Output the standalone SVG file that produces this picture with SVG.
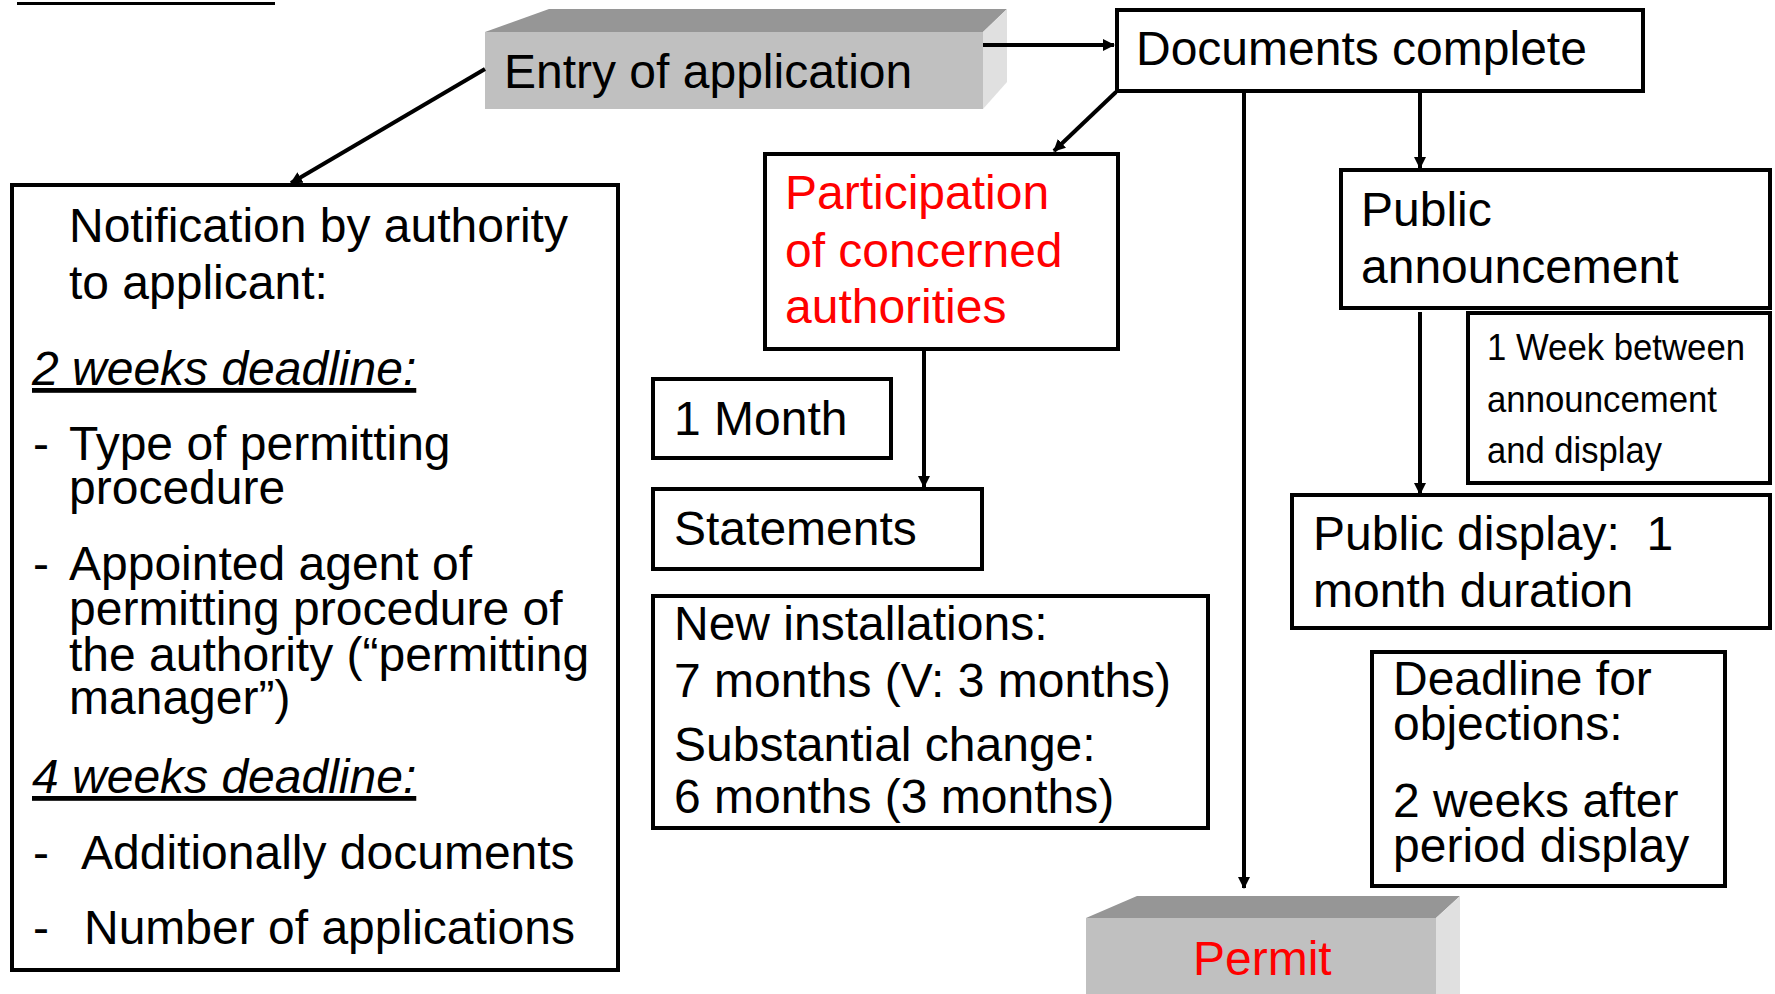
<svg xmlns="http://www.w3.org/2000/svg" width="1775" height="994" viewBox="0 0 1775 994">
<defs>
<marker id="ah" markerUnits="userSpaceOnUse" markerWidth="12" markerHeight="12" refX="11" refY="6" orient="auto">
<path d="M0,0 L12,6 L0,12 z" fill="#000"/>
</marker>
<style>
text{font-family:"Liberation Sans",Arial,sans-serif;font-size:48px;fill:#000}
.box{fill:#fff;stroke:#000;stroke-width:4}
.red{fill:#ff0000}
.small{font-size:37px}
.conn{stroke:#000;stroke-width:4;fill:none}
.arr{marker-end:url(#ah)}
.front{fill:#c0c0c0}
.top{fill:#969696}
.side{fill:#e0e0e0}
.ul{font-style:italic;text-decoration:underline}
</style>
</defs>
<rect x="17" y="2" width="258" height="3" fill="#000"/>
<g id="entry">
<rect class="front" x="485" y="32" width="498" height="77"/>
<polygon class="top" points="485,32 549,9 1007,9 983,32"/>
<polygon class="side" points="983,32 1007,9 1007,82 983,109"/>
<text x="504" y="88">Entry of application</text>
</g>
<g id="documents">
<rect class="box" x="1117" y="10" width="526" height="81"/>
<text x="1136" y="65">Documents complete</text>
</g>
<g id="notification">
<rect class="box" x="12" y="185" width="606" height="785"/>
<text x="69" y="242">Notification by authority</text>
<text x="69" y="299">to applicant:</text>
<text class="ul" x="32" y="385">2 weeks deadline:</text>
<text x="33" y="460">-</text>
<text x="69" y="460">Type of permitting</text>
<text x="69" y="504">procedure</text>
<text x="33" y="580">-</text>
<text x="69" y="580">Appointed agent of</text>
<text x="69" y="625">permitting procedure of</text>
<text x="69" y="671">the authority (“permitting</text>
<text x="69" y="714">manager”)</text>
<text class="ul" x="32" y="793">4 weeks deadline:</text>
<text x="33" y="869">-</text>
<text x="81" y="869">Additionally documents</text>
<text x="33" y="944">-</text>
<text x="84" y="944">Number of applications</text>
</g>
<g id="participation">
<rect class="box" x="765" y="154" width="353" height="195"/>
<text class="red" x="785" y="209">Participation</text>
<text class="red" x="785" y="267">of concerned</text>
<text class="red" x="785" y="323">authorities</text>
</g>
<g id="month">
<rect class="box" x="653" y="379" width="238" height="79"/>
<text x="674" y="435">1 Month</text>
</g>
<g id="statements">
<rect class="box" x="653" y="489" width="329" height="80"/>
<text x="674" y="545">Statements</text>
</g>
<g id="installations">
<rect class="box" x="653" y="596" width="555" height="232"/>
<text x="674" y="640">New installations:</text>
<text x="674" y="697">7 months (V: 3 months)</text>
<text x="674" y="761">Substantial change:</text>
<text x="674" y="813">6 months (3 months)</text>
</g>
<g id="announcement">
<rect class="box" x="1341" y="170" width="429" height="138"/>
<text x="1361" y="226">Public</text>
<text x="1361" y="283">announcement</text>
</g>
<g id="week">
<rect class="box" x="1468" y="313" width="302" height="170"/>
<text class="small" x="1487" y="360" textLength="258" lengthAdjust="spacingAndGlyphs">1 Week between</text>
<text class="small" x="1487" y="412" textLength="230" lengthAdjust="spacingAndGlyphs">announcement</text>
<text class="small" x="1487" y="463" textLength="175" lengthAdjust="spacingAndGlyphs">and display</text>
</g>
<g id="display">
<rect class="box" x="1292" y="495" width="478" height="133"/>
<text x="1313" y="550" xml:space="preserve">Public display:  1</text>
<text x="1313" y="607">month duration</text>
</g>
<g id="deadline">
<rect class="box" x="1372" y="652" width="353" height="234"/>
<text x="1393" y="695">Deadline for</text>
<text x="1393" y="740">objections:</text>
<text x="1393" y="817">2 weeks after</text>
<text x="1393" y="862">period display</text>
</g>
<g id="permit">
<rect class="front" x="1086" y="918" width="350" height="76"/>
<polygon class="top" points="1086,918 1137,896 1460,896 1436,918"/>
<polygon class="side" points="1436,918 1460,896 1460,994 1436,994"/>
<text class="red" x="1193" y="975">Permit</text>
</g>
<g id="connectors">
<line class="conn arr" x1="983" y1="45" x2="1114" y2="45"/>
<line class="conn arr" x1="485" y1="69" x2="291" y2="183"/>
<line class="conn arr" x1="1116" y1="92" x2="1054" y2="151"/>
<line class="conn arr" x1="1244" y1="92" x2="1244" y2="888"/>
<line class="conn arr" x1="1420" y1="92" x2="1420" y2="168"/>
<line class="conn arr" x1="924" y1="349" x2="924" y2="487"/>
<line class="conn arr" x1="1420" y1="312" x2="1420" y2="494"/>
</g>
</svg>
